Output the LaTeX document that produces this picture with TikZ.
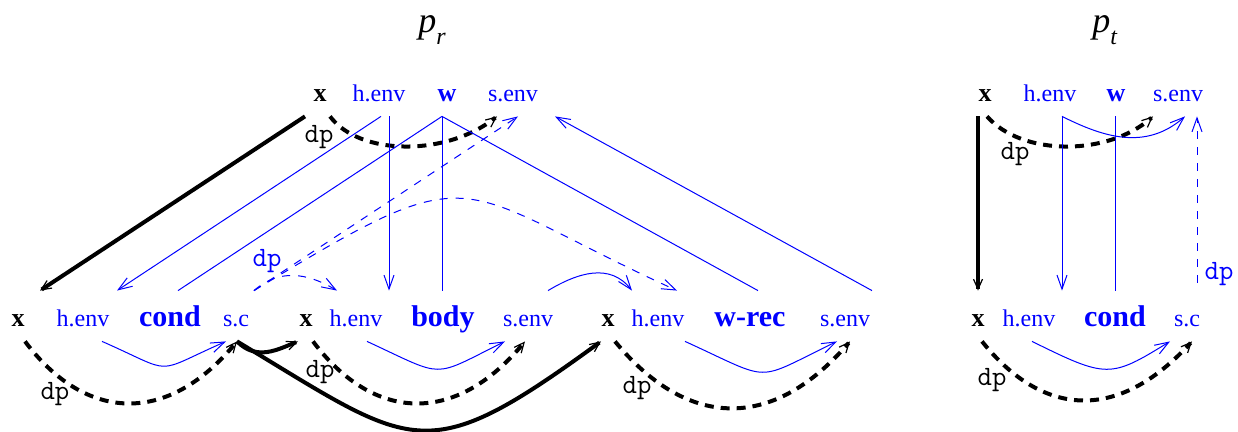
\documentclass[tikz,border=0pt]{standalone}
\usepackage{fontspec}
\setmainfont{Liberation Serif}
\usetikzlibrary{arrows.meta, calc}

\tikzset{
  att/.style={inner xsep=0pt, inner ysep=4pt, text height=14pt, text depth=3pt,
    anchor=base, text=blue, font=\fontsize{12}{14}\selectfont},
  var/.style={att, text=black, font=\fontsize{13}{15}\selectfont\bfseries},
  wsym/.style={att, font=\fontsize{13}{15}\selectfont\bfseries},
  sym/.style={att, font=\fontsize{15}{17}\selectfont\bfseries},
  dplab/.style={inner sep=0pt, font=\fontsize{14}{16}\selectfont\ttfamily},
  flow/.style={blue, line width=0.5pt, -{Straight Barb[length=7pt,width=5pt]}},
  link/.style={blue, line width=0.5pt},
  dflow/.style={flow, dash pattern=on 4pt off 4pt},
  heavy/.style={line width=2pt, -{Straight Barb[length=5pt,width=4.5pt,line width=0.6pt]}},
  dheavy/.style={heavy, dash pattern=on 4.5pt off 3.5pt},
}

\begin{document}
\begin{tikzpicture}[x=0.5pt, y=-0.5pt]
\useasboundingbox (0,0) rectangle (1238,432);

% production p_r
\node (prLab) at (432,30) {\fontsize{18}{20}\selectfont\textit{p}\raisebox{-6pt}{\fontsize{12}{13}\selectfont\textit{r}}};
\node[var]  (prX)    at (320,102) {x};
\node[att]  (prHenv) at (379,102) {h.env};
\node[wsym] (prW)    at (447,102) {w};
\node[att]  (prSenv) at (513,102) {s.env};

\node[var] (cX)    at (18,327)  {x};
\node[att] (cHenv) at (83,327)  {h.env};
\node[sym] (cCond) at (170,327) {cond};
\node[att] (cSc)   at (236,327) {s.c};

\node[var] (bX)    at (306,327) {x};
\node[att] (bHenv) at (356,327) {h.env};
\node[sym] (bBody) at (443,327) {body};
\node[att] (bSenv) at (528,327) {s.env};

\node[var] (rX)    at (608,327) {x};
\node[att] (rHenv) at (658,327) {h.env};
\node[sym] (rWrec) at (750,327) {w-rec};
\node[att] (rSenv) at (845,327) {s.env};

% production p_t
\node (ptLab) at (1105,30) {\fontsize{18}{20}\selectfont\textit{p}\raisebox{-6pt}{\fontsize{12}{13}\selectfont\textit{t}}};
\node[var]  (ptX)    at (985,102)  {x};
\node[att]  (ptHenv) at (1050,102) {h.env};
\node[wsym] (ptW)    at (1116,102) {w};
\node[att]  (ptSenv) at (1178,102) {s.env};

\node[var] (tX)    at (978,327)  {x};
\node[att] (tHenv) at (1029,327) {h.env};
\node[sym] (tCond) at (1115,327) {cond};
\node[att] (tSc)   at (1187,327) {s.c};

% dp labels
\node[dplab] (dpA) at (319,137) {dp};
\node[dplab, text=blue] (dpB) at (267,261) {dp};
\node[dplab] (dpC) at (55,394) {dp};
\node[dplab] (dpD) at (320,372) {dp};
\node[dplab] (dpE) at (637,388) {dp};
\node[dplab] (dpF) at (1015,154) {dp};
\node[dplab, text=blue] (dpG) at (1219,274) {dp};
\node[dplab] (dpH) at (992,380) {dp};

% p_r : top to bottom
\draw[heavy] ($(prX.south)+(-15,0)$) -- ($(cX.north)+(22,0)$);
\draw[dheavy] ($(prX.south)+(10,0)$) .. controls +(30,40) and +(-50,40) .. ($(prSenv.south)+(-16,0)$);
\draw[flow] ($(prHenv.south)+(2,0)$) -- ($(cHenv.north)+(34,0)$);
\draw[flow] ($(prHenv.south)+(10,0)$) -- ($(bHenv.north)+(33,0)$);
\draw[link] ($(prW.south)+(-5,0)$) -- ($(bBody.north)+(-1,0)$);
\draw[link] ($(prW.south)+(-5,0)$) -- ($(cCond.north)+(8,0)$);
\draw[link] ($(prW.south)+(-5,0)$) -- ($(rWrec.north)+(8,0)$);
\draw[flow] ($(rSenv.north)+(27,0)$) -- ($(prSenv.south)+(42,0)$);
\draw[dflow] ($(cSc.north)+(18,0)$) -- ($(prSenv.south)+(5,0)$);
\draw[dflow] ($(cSc.north)+(18,0)$) .. controls +(230,-140) and +(-230,-105) .. ($(rHenv.north)+(19,0)$);
\draw[dflow] ($(cSc.north)+(18,0)$) .. controls +(25,-22) and +(-30,-18) .. ($(bHenv.north)+(-19,0)$);
\draw[flow] ($(bSenv.north)+(20,0)$) .. controls +(30,-18) and +(-22,-28) .. ($(rHenv.north)+(-26,0)$);

% p_r : bottom row
\draw[flow] ($(cHenv.south)+(19,0)$) .. controls +(75,33) and +(-75,33) .. ($(cSc.south)+(-10,0)$);
\draw[dheavy] ($(cX.south)+(7,0)$) .. controls +(60,80) and +(-70,85) .. ($(cSc.south)+(1,0)$);
\draw[heavy] ($(cSc.south)+(1,0)$) .. controls +(20,20) and +(-20,8) .. ($(bX.south)+(-8,0)$);
\draw[heavy] ($(cSc.south)+(1,0)$) .. controls +(178,107) and +(-178,130) .. ($(rX.south)+(-7,0)$);
\draw[flow] ($(bHenv.south)+(11,0)$) .. controls +(80,37) and +(-75,37) .. ($(bSenv.south)+(-23,0)$);
\draw[dheavy] ($(bX.south)+(7,0)$) .. controls +(60,80) and +(-70,85) .. ($(bSenv.south)+(-3,0)$);
\draw[flow] ($(rHenv.south)+(27,0)$) .. controls +(90,41) and +(-85,41) .. ($(rSenv.south)+(-8,0)$);
\draw[dheavy] ($(rX.south)+(7,0)$) .. controls +(70,85) and +(-80,93) .. ($(rSenv.south)+(5,0)$);

% p_t
\draw[heavy] ($(ptX.south)+(-7,0)$) -- (tX.north);
\draw[dheavy] ($(ptX.south)+(2,0)$) .. controls +(35,40) and +(-45,40) .. ($(ptSenv.south)+(-25,0)$);
\draw[flow] ($(ptHenv.south)+(12,0)$) -- ($(tHenv.north)+(33,0)$);
\draw[flow] ($(ptHenv.south)+(12,0)$) .. controls +(40,20) and +(-40,35) .. ($(ptSenv.south)+(7,0)$);
\draw[link] ($(ptW.south)+(-1,0)$) -- (tCond.north);
\draw[dflow] ($(tSc.north)+(10,-8)$) -- ($(ptSenv.south)+(19,0)$);
\draw[flow] ($(tHenv.south)+(3,0)$) .. controls +(75,37) and +(-60,37) .. ($(tSc.south)+(-17,0)$);
\draw[dheavy] ($(tX.south)+(4,0)$) .. controls +(60,75) and +(-75,82) .. ($(tSc.south)+(5,0)$);
\end{tikzpicture}
\end{document}
